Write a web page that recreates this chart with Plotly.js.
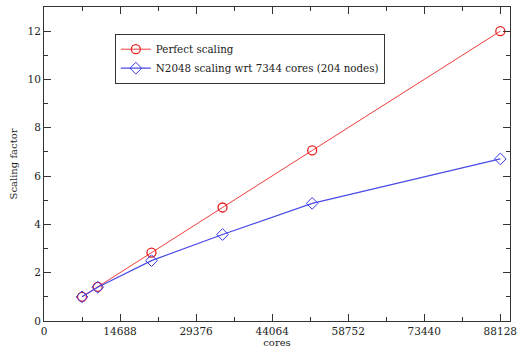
<!DOCTYPE html>
<html>
<head>
<meta charset="utf-8">
<script src="https://cdn.plot.ly/plotly-3.0.1.min.js"></script>
<style>html,body{margin:0;padding:0;background:#fff;}#chart{width:518px;height:348px;}</style>
</head>
<body>
<div id="chart"></div>
<script>
var cores = [7344, 10378, 20756, 34478, 51795, 88128];
var perfectScaling = [1.0, 1.41, 2.83, 4.70, 7.06, 12.0];
var n2048Scaling = [1.0, 1.40, 2.50, 3.58, 4.87, 6.71];
var xTickVals = [0, 14688, 29376, 44064, 58752, 73440, 88128];
var xTickText = ['0', '14688', '29376', '44064', '58752', '73440', '88128'];
var seriesNames = ['Perfect scaling', 'N2048 scaling wrt 7344 cores (204 nodes)'];

var font = 'DejaVu Serif';

var traces = [
  {
    x: cores, y: perfectScaling, name: seriesNames[0],
    type: 'scatter', mode: 'lines+markers',
    line: {color: '#f03c3c', width: 1},
    marker: {symbol: 'circle-open', size: 9, color: '#e82020', line: {width: 1.3}}
  },
  {
    x: cores, y: n2048Scaling, name: seriesNames[1],
    type: 'scatter', mode: 'lines+markers',
    line: {color: '#4a4ae8', width: 1.2},
    marker: {symbol: 'diamond-open', size: 9, color: '#3a3ae8', line: {width: 1}}
  }
];

var axisCommon = {
  showgrid: false, zeroline: false, showline: true, mirror: 'ticks',
  linecolor: '#333', linewidth: 1, ticks: 'inside', tickcolor: '#333',
  tickfont: {family: font, size: 10.5, color: '#222'}
};

var layout = {
  width: 518, height: 348,
  margin: {l: 44, r: 8, t: 7, b: 27},
  paper_bgcolor: '#fff', plot_bgcolor: '#fff',
  font: {family: font, color: '#222'},
  showlegend: true,
  legend: {
    x: 0.152, y: 0.915, xanchor: 'left', yanchor: 'top',
    bordercolor: '#333', borderwidth: 1, bgcolor: '#fff',
    font: {family: font, size: 10.3, color: '#222'},
    tracegroupgap: 0, itemwidth: 30
  },
  xaxis: Object.assign({}, axisCommon, {
    range: [0, 90000],
    tickmode: 'array', tickvals: xTickVals, ticktext: xTickText,
    ticklen: 7,
    minor: {dtick: 7344, tick0: 0, ticks: 'inside', ticklen: 4, tickcolor: '#333', showgrid: false},
    title: {text: 'cores', font: {family: font, size: 10, color: '#222'}, standoff: 3}
  }),
  yaxis: Object.assign({}, axisCommon, {
    range: [0, 13],
    tick0: 0, dtick: 2, ticklen: 7,
    minor: {dtick: 1, ticks: 'inside', ticklen: 4, tickcolor: '#333', showgrid: false},
    title: {text: 'Scaling factor', font: {family: font, size: 10, color: '#222'}, standoff: 8}
  })
};

Plotly.newPlot('chart', traces, layout, {displayModeBar: false, staticPlot: true});
</script>
</body>
</html>
